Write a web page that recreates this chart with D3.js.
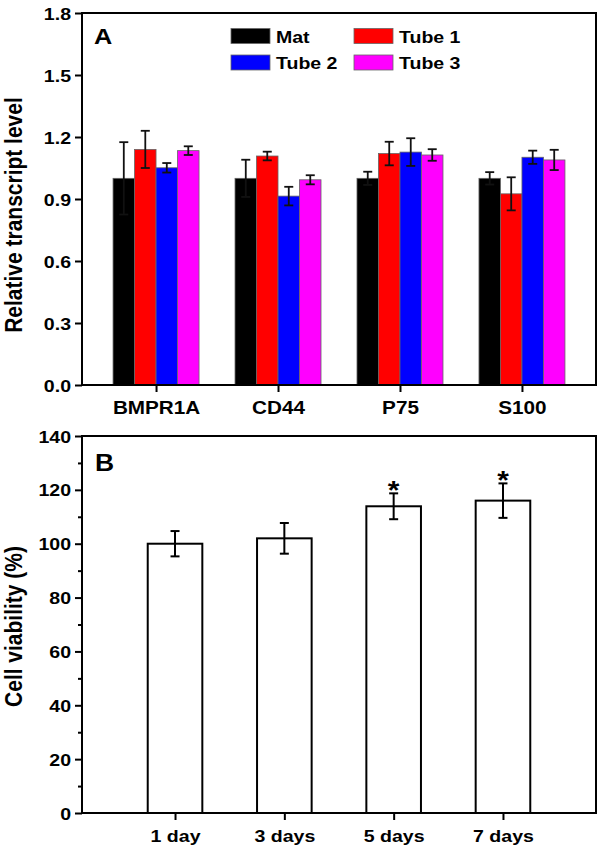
<!DOCTYPE html>
<html>
<head>
<meta charset="utf-8">
<script src="https://cdn.jsdelivr.net/npm/d3@7"></script>
<style>
html,body{margin:0;padding:0;background:#fff;}
text{font-family:"Liberation Sans",Arial,sans-serif;font-weight:bold;fill:#000;}
</style>
</head>
<body>
<svg id="chart" width="600" height="850"></svg>
<script>
// ---------- data ----------
const categoriesA = ["BMPR1A", "CD44", "P75", "S100"];
const seriesA = ["Mat", "Tube 1", "Tube 2", "Tube 3"];
const colorsA = ["#000000", "#ff0000", "#0000ff", "#ff00ff"];
const matVals = [1.0, 1.0, 1.0, 1.0];
const matErr = [0.175, 0.09, 0.032, 0.03];
const tube1Vals = [1.14, 1.108, 1.12, 0.925];
const tube1Err = [0.09, 0.021, 0.057, 0.08];
const tube2Vals = [1.051, 0.914, 1.127, 1.102];
const tube2Err = [0.023, 0.045, 0.067, 0.032];
const tube3Vals = [1.134, 0.993, 1.113, 1.089];
const tube3Err = [0.021, 0.022, 0.028, 0.049];
const ticksA = [0, 0.3, 0.6, 0.9, 1.2, 1.5, 1.8];

const daysB = ["1 day", "3 days", "5 days", "7 days"];
const viability = [100, 102, 113.9, 116];
const viabilityErr = [4.7, 5.7, 4.8, 6.4];
const sigB = ["", "", "*", "*"];
const ticksB = [0, 20, 40, 60, 80, 100, 120, 140];
const minorTicksB = [10, 30, 50, 70, 90, 110, 130];

const valsA = [matVals, tube1Vals, tube2Vals, tube3Vals];
const errsA = [matErr, tube1Err, tube2Err, tube3Err];

// ---------- layout ----------
const SX = 1.15; // horizontal stretch of the original figure's lettering
const svg = d3.select("#chart");
const L = 82, R = 596;
const A = {top: 13, bottom: 385};
const B = {top: 436, bottom: 813};

function stretchText(sel, x, y, extra) {
  sel.attr("x", null).attr("y", null)
     .attr("transform", `translate(${x},${y}) scale(${SX},1)` + (extra || ""));
}

// ---------- Panel A ----------
const xA = d3.scalePoint().domain(categoriesA).range([L, R]).padding(0.607);
const yA = d3.scaleLinear().domain([0, 1.8]).range([A.bottom, A.top]);
const groupW = 86;
const xSub = d3.scaleBand().domain(seriesA).range([-groupW / 2, groupW / 2]).padding(0);

const gA = svg.append("g");
const records = [];
seriesA.forEach((s, si) => {
  categoriesA.forEach((c, ci) => {
    records.push({s, si, c, ci, v: valsA[si][ci], e: errsA[si][ci]});
  });
});

gA.selectAll("rect.bar").data(records).join("rect")
  .attr("class", "bar")
  .attr("x", d => xA(d.c) + xSub(d.s))
  .attr("y", d => yA(d.v))
  .attr("width", xSub.bandwidth())
  .attr("height", d => yA(0) - yA(d.v))
  .attr("fill", d => colorsA[d.si])
  .attr("stroke", "#666")
  .attr("stroke-width", 0.8);

const errA = gA.selectAll("g.err").data(records).join("g").attr("class", "err")
  .attr("stroke", "#111").attr("stroke-width", 1.8);
errA.append("line")
  .attr("x1", d => xA(d.c) + xSub(d.s) + xSub.bandwidth() / 2)
  .attr("x2", d => xA(d.c) + xSub(d.s) + xSub.bandwidth() / 2)
  .attr("y1", d => yA(d.v + d.e)).attr("y2", d => yA(d.v - d.e));
[1, -1].forEach(sign => {
  errA.append("line")
    .attr("x1", d => xA(d.c) + xSub(d.s) + xSub.bandwidth() / 2 - 4.5)
    .attr("x2", d => xA(d.c) + xSub(d.s) + xSub.bandwidth() / 2 + 4.5)
    .attr("y1", d => yA(d.v + sign * d.e)).attr("y2", d => yA(d.v + sign * d.e));
});

// axes A
const axLA = gA.append("g").attr("transform", `translate(${L},0)`)
  .call(d3.axisLeft(yA).tickValues(ticksA).tickFormat(d3.format(".1f")).tickSize(7).tickSizeOuter(0));
axLA.select(".domain").remove();
axLA.selectAll(".tick line").attr("stroke", "#000").attr("stroke-width", 2);
axLA.selectAll(".tick text").attr("font-size", 17).attr("dy", "0.36em")
  .each(function() { stretchText(d3.select(this), -11, 0); });

const axBA = gA.append("g").attr("transform", `translate(0,${A.bottom})`)
  .call(d3.axisBottom(xA).tickSize(7).tickSizeOuter(0));
axBA.select(".domain").remove();
axBA.selectAll(".tick line").attr("stroke", "#000").attr("stroke-width", 2);
axBA.selectAll(".tick text").attr("font-size", 18).attr("dy", 0)
  .each(function() { stretchText(d3.select(this), 0, 29); });

gA.append("rect").attr("x", L).attr("y", A.top).attr("width", R - L).attr("height", A.bottom - A.top)
  .attr("fill", "none").attr("stroke", "#000").attr("stroke-width", 2);

stretchText(gA.append("text").attr("font-size", 22).text("A"), 94, 44);

// legend
const legPos = [[231, 28.5], [354, 28.5], [231, 55], [354, 55]];
seriesA.forEach((s, i) => {
  const [lx, ly] = legPos[i];
  gA.append("rect").attr("x", lx).attr("y", ly).attr("width", 39).attr("height", 15)
    .attr("fill", colorsA[i]).attr("stroke", "#666").attr("stroke-width", 0.8);
  stretchText(gA.append("text").attr("font-size", 17).text(s), lx + 45, ly + 14);
});

// y title A
stretchText(gA.append("text").attr("font-size", 21).attr("text-anchor", "middle")
  .text("Relative transcript level"), 22, (A.top + A.bottom) / 2 + 16, " rotate(-90)");

// ---------- Panel B ----------
const xB = d3.scalePoint().domain(daysB).range([L, R]).padding(0.851);
const yB = d3.scaleLinear().domain([0, 140]).range([B.bottom, B.top]);
const barW = 54.6;
const gB = svg.append("g");
const recB = daysB.map((d, i) => ({d, v: viability[i], e: viabilityErr[i], s: sigB[i]}));

gB.selectAll("rect.bar").data(recB).join("rect").attr("class", "bar")
  .attr("x", d => xB(d.d) - barW / 2).attr("y", d => yB(d.v))
  .attr("width", barW).attr("height", d => yB(0) - yB(d.v))
  .attr("fill", "#fff").attr("stroke", "#000").attr("stroke-width", 2);

const errB = gB.selectAll("g.err").data(recB).join("g").attr("class", "err")
  .attr("stroke", "#000").attr("stroke-width", 2);
errB.append("line").attr("x1", d => xB(d.d)).attr("x2", d => xB(d.d))
  .attr("y1", d => yB(d.v + d.e)).attr("y2", d => yB(d.v - d.e));
[1, -1].forEach(sign => {
  errB.append("line").attr("x1", d => xB(d.d) - 4.5).attr("x2", d => xB(d.d) + 4.5)
    .attr("y1", d => yB(d.v + sign * d.e)).attr("y2", d => yB(d.v + sign * d.e));
});

recB.filter(d => d.s).forEach(d => {
  stretchText(gB.append("text").attr("font-size", 26).attr("text-anchor", "middle").text(d.s),
    xB(d.d), yB(d.v + d.e) + 6);
});

const axLB = gB.append("g").attr("transform", `translate(${L},0)`)
  .call(d3.axisLeft(yB).tickValues(ticksB).tickFormat(d3.format("d")).tickSize(7).tickSizeOuter(0));
axLB.select(".domain").remove();
axLB.selectAll(".tick line").attr("stroke", "#000").attr("stroke-width", 2);
axLB.selectAll(".tick text").attr("font-size", 17).attr("dy", "0.36em")
  .each(function() { stretchText(d3.select(this), -11, 0); });
const axMB = gB.append("g").attr("transform", `translate(${L},0)`)
  .call(d3.axisLeft(yB).tickValues(minorTicksB).tickFormat("").tickSize(4).tickSizeOuter(0));
axMB.select(".domain").remove();
axMB.selectAll(".tick line").attr("stroke", "#000").attr("stroke-width", 2);

const axBB = gB.append("g").attr("transform", `translate(0,${B.bottom})`)
  .call(d3.axisBottom(xB).tickSize(7).tickSizeOuter(0));
axBB.select(".domain").remove();
axBB.selectAll(".tick line").attr("stroke", "#000").attr("stroke-width", 2);
axBB.selectAll(".tick text").attr("font-size", 17).attr("dy", 0)
  .each(function() { stretchText(d3.select(this), 0, 29); });

gB.append("rect").attr("x", L).attr("y", B.top).attr("width", R - L).attr("height", B.bottom - B.top)
  .attr("fill", "none").attr("stroke", "#000").attr("stroke-width", 2);

stretchText(gB.append("text").attr("font-size", 23).text("B"), 95, 471);

stretchText(gB.append("text").attr("font-size", 21).attr("text-anchor", "middle")
  .text("Cell viability (%)"), 22, (B.top + B.bottom) / 2 + 2, " rotate(-90)");
</script>
</body>
</html>
